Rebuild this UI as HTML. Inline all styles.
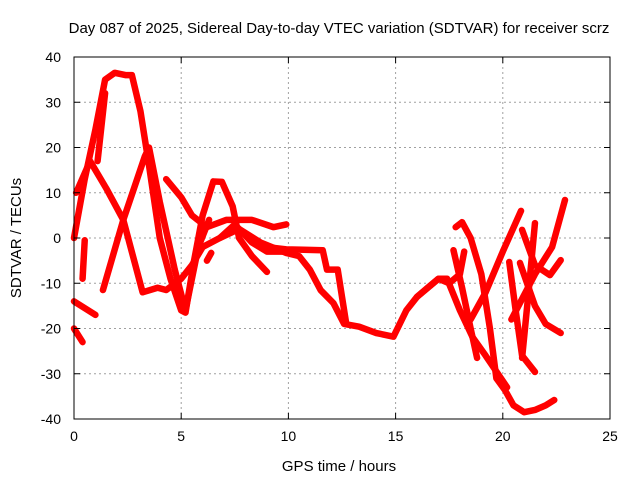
<!DOCTYPE html>
<html><head><meta charset="utf-8"><style>
body{margin:0;background:#fff}
svg{display:block;font-family:"Liberation Sans",sans-serif}
</style></head><body>
<svg id="chart" width="640" height="480">
<text x="339" y="33" font-size="15" text-anchor="middle">Day 087 of 2025, Sidereal Day-to-day VTEC variation (SDTVAR) for receiver scrz</text>
<text x="339" y="471" font-size="15" text-anchor="middle">GPS time / hours</text>
<text transform="translate(21,238) rotate(-90)" font-size="15" text-anchor="middle">SDTVAR / TECUs</text>
<g id="grid"></g>
<g id="series"></g>
<rect x="74" y="57" width="536" height="362" fill="none" stroke="#000" stroke-width="1"/>
<g id="ticks"></g>
</svg>
<script>
const xTicks=[0,5,10,15,20,25];
const yTicks=[-40,-30,-20,-10,0,10,20,30,40];
const s1=[[0,0],[0.5,13],[1,24],[1.45,35],[1.9,36.5],[2.4,36],[2.7,36],[3.1,28],[3.5,16],[4,0],[4.5,-9],[5,-16],[5.2,-16.5],[5.6,-5],[6,5],[6.5,12.5],[6.9,12.4],[7.4,7],[7.7,0],[8.3,-4],[9,-7.5]];
const s1b=[[1.1,17],[1.45,32]];
const s2=[[0.1,10],[0.75,17],[1.5,11],[2.3,4],[3.2,-12],[3.9,-11],[4.3,-11.5],[5,-9],[5.5,-6],[6,-2],[6.8,0],[7.7,2],[8.7,-1],[9.9,-3.3],[10.5,-4],[11,-7],[11.5,-11.5],[12.1,-14.4],[12.6,-19],[13.3,-19.6],[14.1,-21],[14.9,-21.8],[15.5,-16],[16,-13],[16.5,-11],[17,-9],[17.5,-10],[18,-8],[18.2,-3]];
const s3=[[1.35,-11.5],[2.3,4],[3.3,18],[3.5,20],[4,8],[4.7,-7],[5.2,-16],[5.8,-2],[6.3,4]];
const s5=[[4.3,13],[5,9],[5.5,5],[6.2,2.4],[7.1,4],[8.3,4],[9.3,2.4],[9.9,3]];
const s6=[[9,-2],[9.9,-2.5],[10.7,-2.6],[11.6,-2.7],[11.8,-7],[12.3,-7],[12.5,-13],[12.7,-19]];
const s7=[[6.8,0],[7.5,3],[8.3,-1],[9,-3],[9.9,-3]];
const s8=[[0.5,-0.5],[0.4,-9]];
const s9=[[0,-14],[1,-17]];
const s10=[[0,-20],[0.4,-23]];
const s11=[[6.2,-5],[6.4,-3.3]];
const r1=[[17.8,2.4],[18.1,3.5],[18.5,0],[19,-8],[19.4,-20],[19.7,-31],[20.1,-33.6],[20.5,-37],[21,-38.5],[21.5,-38],[22,-37],[22.4,-35.8]];
const r2=[[16,-13],[16.5,-11],[17,-9],[17.4,-9],[18,-16],[18.6,-22],[19.2,-26],[20.2,-33]];
const r3=[[17.7,-2.7],[18.1,-11],[18.5,-20],[18.8,-26.5]];
const r4=[[18.5,-18],[19.2,-12],[20,-3],[20.85,6]];
const r5=[[20.3,-5.3],[20.6,-16],[20.9,-26],[21.5,-29.6]];
const r6=[[20.9,-26.5],[21.2,-12],[21.5,3.3]];
const r7=[[20.9,1.8],[21.5,-6],[22.2,-8.2],[22.7,-4.9]];
const r8=[[20.4,-18],[21.5,-8],[22.3,-2],[22.9,8.4]];
const r9=[[20.8,-5.5],[21.5,-15],[22,-19],[22.7,-21]];
const allSeries=[s1,s1b,s2,s3,s5,s6,s7,s8,s9,s10,s11,r1,r2,r3,r4,r5,r6,r7,r8,r9];
const X0=74,X1=610,Y0=419,Y1=57;
function xs(v){return X0+(v-0)/25*(X1-X0);}
function ys(v){return Y0-(v+40)/80*(Y0-Y1);}
const NS="http://www.w3.org/2000/svg";
const grid=document.getElementById('grid'),ticks=document.getElementById('ticks'),ser=document.getElementById('series');
function mk(t,a,p){const e=document.createElementNS(NS,t);for(const k in a)e.setAttribute(k,a[k]);p.appendChild(e);return e;}
xTicks.forEach(v=>{const x=xs(v);
 if(v>0&&v<25){const g=mk('line',{x1:x,x2:x,y1:Y1,y2:Y0,stroke:'#a0a0a0','stroke-dasharray':'2,3'},grid);
 
 }
 mk('line',{x1:x,x2:x,y1:Y0,y2:Y0-6,stroke:'#000'},ticks);
 mk('line',{x1:x,x2:x,y1:Y1,y2:Y1+6,stroke:'#000'},ticks);
 const t=mk('text',{x:x,y:Y0+22,'font-size':14,'text-anchor':'middle'},ticks);t.textContent=v;
 
 });
yTicks.forEach(v=>{const y=ys(v);
 if(v>-40&&v<40){const g=mk('line',{x1:X0,x2:X1,y1:y,y2:y,stroke:'#a0a0a0','stroke-dasharray':'2,3'},grid);
 
 }
 mk('line',{x1:X0,x2:X0+6,y1:y,y2:y,stroke:'#000'},ticks);
 mk('line',{x1:X1,x2:X1-6,y1:y,y2:y,stroke:'#000'},ticks);
 const t=mk('text',{x:X0-13,y:y+5,'font-size':14,'text-anchor':'end'},ticks);t.textContent=v;
 
 });
allSeries.forEach(s=>{
 const p=mk('polyline',{points:s.map(d=>xs(d[0])+','+ys(d[1])).join(' '),fill:'none',stroke:'#ff0000','stroke-width':6.5,'stroke-linejoin':'round','stroke-linecap':'round'},ser);
 
 
});
</script>
</body></html>
